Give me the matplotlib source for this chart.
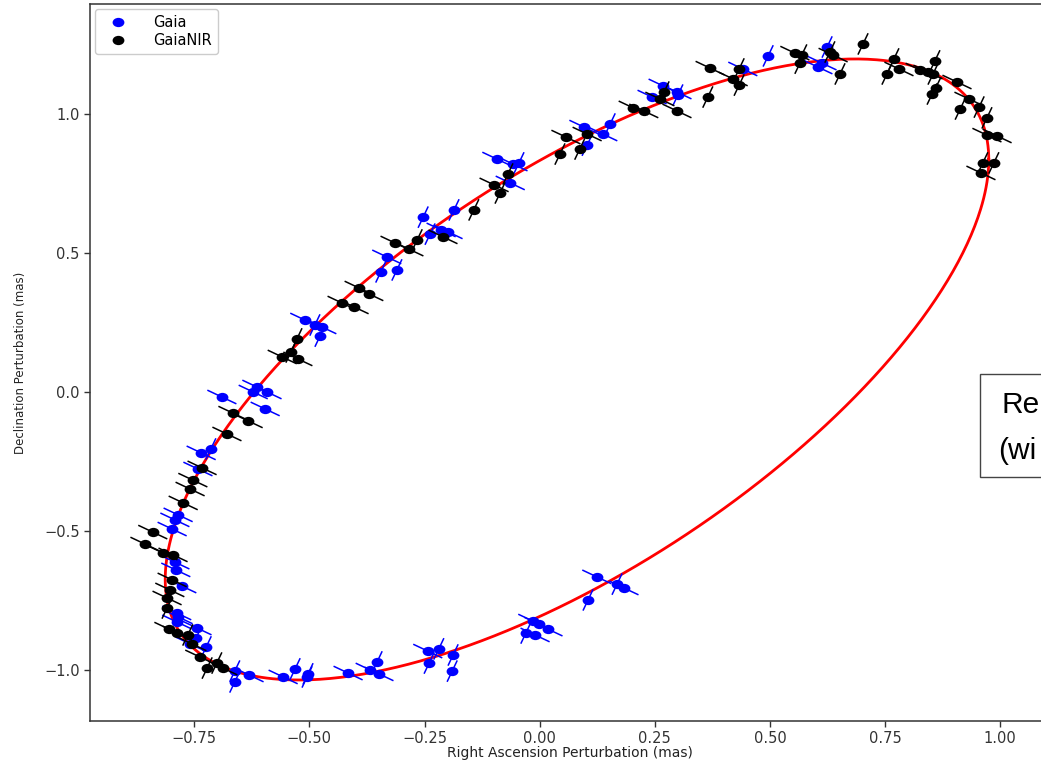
import numpy as np
import matplotlib
matplotlib.use('Agg')
import matplotlib.pyplot as plt
from matplotlib.path import Path
from matplotlib.transforms import Affine2D
from matplotlib.collections import LineCollection
from matplotlib.patches import Rectangle

# ---------------- data (mas) ----------------
gaia_ra = [0.624, 0.496, 0.604, 0.613, 0.441, 0.268, 0.244, 0.298, 0.300, 0.153,
           0.137, 0.096, 0.103, -0.093, -0.058, -0.045, -0.064, -0.186, -0.253, -0.238,
           -0.214, -0.199, -0.332, -0.345, -0.310, -0.510, -0.488, -0.473, -0.477, -0.614,
           -0.622, -0.592, -0.690, -0.596, -0.735, -0.714, -0.742, -0.785, -0.792, -0.798,
           -0.792, -0.790, -0.777, -0.788, -0.785, -0.788, -0.744, -0.746, -0.759, -0.724,
           -0.662, -0.631, -0.662, -0.557, -0.531, -0.505, -0.503, -0.416, -0.353, -0.349,
           -0.368, -0.243, -0.219, -0.240, -0.188, -0.190, -0.015, -0.002, 0.018, -0.030,
           -0.010, 0.105, 0.124, 0.168, 0.183]
gaia_dec = [1.241, 1.209, 1.169, 1.183, 1.162, 1.101, 1.061, 1.079, 1.068, 0.964,
            0.928, 0.953, 0.888, 0.838, 0.820, 0.824, 0.752, 0.655, 0.629, 0.568,
            0.583, 0.576, 0.486, 0.432, 0.439, 0.259, 0.241, 0.234, 0.201, 0.018,
            0.000, 0.000, -0.018, -0.061, -0.219, -0.205, -0.277, -0.442, -0.460, -0.493,
            -0.612, -0.640, -0.698, -0.795, -0.809, -0.827, -0.849, -0.885, -0.906, -0.917,
            -1.004, -1.018, -1.043, -1.025, -0.996, -1.025, -1.014, -1.011, -0.971, -1.014,
            -1.000, -0.932, -0.924, -0.975, -0.946, -1.004, -0.824, -0.835, -0.853, -0.867,
            -0.874, -0.748, -0.665, -0.691, -0.705]
gaia_scan_angle = [74, 74, -38, -38, -38, -38, -38, -38, 74, 74,
                   -38, -38, 74, -38, -38, 74, -38, 74, 74, 74,
                   -38, -38, -38, 74, 74, -38, 74, -38, 74, -38,
                   -38, -38, -38, -38, -38, 74, -38, -38, -38, -38,
                   -38, -38, -38, -38, -38, -38, -38, 74, -38, 74,
                   74, -38, 74, -38, 74, 74, 74, -38, 74, -38,
                   -38, -38, 74, 74, 74, 74, -38, -38, -38, 74,
                   -38, 74, -38, 74, -38]

nir_ra = [0.702, 0.569, 0.554, 0.565, 0.637, 0.630, 0.652, 0.370, 0.433, 0.420,
          0.433, 0.365, 0.203, 0.226, 0.261, 0.270, 0.298, 0.769, 0.754, 0.780,
          0.858, 0.826, 0.843, 0.854, 0.860, 0.852, 0.906, 0.932, 0.913, 0.954,
          0.971, 0.971, 0.993, 0.962, 0.986, 0.958, 0.103, 0.087, 0.057, 0.044,
          -0.069, -0.099, -0.086, -0.143, -0.210, -0.266, -0.314, -0.284, -0.392, -0.371,
          -0.429, -0.403, -0.527, -0.540, -0.559, -0.525, -0.666, -0.633, -0.679, -0.733,
          -0.753, -0.759, -0.774, -0.840, -0.857, -0.818, -0.796, -0.798, -0.803, -0.809,
          -0.809, -0.805, -0.787, -0.764, -0.755, -0.738, -0.722, -0.701, -0.688]
nir_dec = [1.252, 1.212, 1.219, 1.183, 1.212, 1.223, 1.144, 1.165, 1.162, 1.126,
           1.104, 1.061, 1.022, 1.011, 1.054, 1.079, 1.011, 1.198, 1.144, 1.162,
           1.191, 1.158, 1.151, 1.144, 1.094, 1.072, 1.115, 1.054, 1.018, 1.025,
           0.986, 0.924, 0.921, 0.824, 0.824, 0.788, 0.928, 0.874, 0.917, 0.856,
           0.784, 0.745, 0.716, 0.655, 0.558, 0.547, 0.536, 0.514, 0.374, 0.353,
           0.320, 0.306, 0.191, 0.144, 0.126, 0.119, -0.076, -0.104, -0.151, -0.273,
           -0.317, -0.349, -0.399, -0.504, -0.547, -0.579, -0.586, -0.676, -0.712, -0.741,
           -0.777, -0.853, -0.867, -0.874, -0.906, -0.953, -0.993, -0.975, -0.993]
nir_scan_angle = [74, 74, -38, 74, -38, 74, 74, -38, 74, -38,
                  74, 74, -38, -38, -38, 74, -38, 74, 74, -38,
                  74, -38, -38, 74, 74, 74, -38, -38, 74, 74,
                  74, -38, -38, 74, 74, -38, -38, 74, -38, 74,
                  74, -38, 74, 74, -38, 74, -38, -38, -38, -38,
                  -38, -38, 74, 74, -38, -38, -38, -38, -38, -38,
                  -38, -38, -38, -38, -38, -38, -38, -38, -38, -38,
                  74, -38, -38, 74, -38, -38, 74, 74, -38]
scan_error = 0.04  # half length of the along-scan error bar (mas)

# fitted orbit (projected ellipse) parameters
orbit_center_ra = 0.081
orbit_center_dec = 0.081
orbit_amp_ra = 0.894
orbit_amp_dec = 1.117
orbit_phase_deg = 47.5

tick_ra = [-0.75, -0.50, -0.25, 0.00, 0.25, 0.50, 0.75, 1.00]
tick_dec = [-1.0, -0.5, 0.0, 0.5, 1.0]

# ---------------- figure ----------------
W, H = 1041, 763
fig = plt.figure(figsize=(W / 100, H / 100), dpi=100)
ax = fig.add_axes([90 / W, 42 / H, (1092 - 90) / W, (759 - 42) / H])
ax.set_xlim(-0.9763, 1.1991)
ax.set_ylim(-1.1835, 1.3957)

# elliptical marker (the reference is horizontally stretched)
ell = Path.unit_circle().transformed(Affine2D().scale(1.27, 1.0))

t = np.linspace(0, 2 * np.pi, 600)
phi = np.deg2rad(orbit_phase_deg)
orb_x = orbit_center_ra + orbit_amp_ra * np.cos(t)
orb_y = orbit_center_dec + orbit_amp_dec * np.cos(t - phi)
ax.plot(orb_x, orb_y, color='red', lw=2.0, zorder=2)


def draw_series(xs, ys, angs, color, z):
    xs = np.asarray(xs); ys = np.asarray(ys)
    a = np.deg2rad(np.asarray(angs))
    dx = scan_error * np.cos(a)
    dy = scan_error * np.sin(a)
    segs = np.stack([np.column_stack([xs - dx, ys - dy]),
                     np.column_stack([xs + dx, ys + dy])], axis=1)
    ax.add_collection(LineCollection(segs, colors=color, linewidths=1.1, zorder=z))
    ax.plot(xs, ys, linestyle='none', marker=ell, markersize=8.5,
            color=color, markeredgewidth=0, zorder=z + 0.1)


draw_series(gaia_ra, gaia_dec, gaia_scan_angle, 'blue', 3)
draw_series(nir_ra, nir_dec, nir_scan_angle, 'black', 4)

h1, = ax.plot([], [], linestyle='none', marker=ell, markersize=8.5, color='blue',
              markeredgewidth=0, label='Gaia')
h2, = ax.plot([], [], linestyle='none', marker=ell, markersize=8.5, color='black',
              markeredgewidth=0, label='GaiaNIR')
ax.legend(handles=[h1, h2], loc='upper left', fontsize=10.5, borderaxespad=0.35,
          handlelength=2.3, handletextpad=1.3, labelspacing=0.2, borderpad=0.4,
          framealpha=1, edgecolor='#cccccc')

ax.set_xticks(tick_ra)
ax.set_xticklabels(['%.2f' % v if v >= 0 else '\u2212%.2f' % -v for v in tick_ra])
ax.set_yticks(tick_dec)
ax.set_yticklabels(['%.1f' % v if v >= 0 else '\u2212%.1f' % -v for v in tick_dec])
ax.tick_params(labelsize=10.5, colors='#333333', length=4, width=1)
for s in ax.spines.values():
    s.set_color('#333333')
    s.set_linewidth(1.1)

ax.set_xlabel('Right Ascension Perturbation (mas)', fontsize=10, color='#222222')
ax.xaxis.set_label_coords((570 - 90) / 1002, -0.035)
ax.set_ylabel('Declination Perturbation (mas)', fontsize=8.5, color='#222222')
ax.yaxis.set_label_coords((27 - 90) / 1002, (721 - 363) / 717)

# partially visible annotation box at the right edge
fig.patches.append(Rectangle((980 / W, (763 - 477) / H), 0.2, (477 - 374) / H,
                             transform=fig.transFigure, facecolor='white',
                             edgecolor='#444444', linewidth=1.0, zorder=10))
fig.text(1002 / W, 1 - 405 / H, 'Re', fontsize=21.5, family='Liberation Sans',
         va='center', ha='left', zorder=11)
fig.text(998 / W, 1 - 451 / H, '(wi', fontsize=21.5, family='Liberation Sans',
         va='center', ha='left', zorder=11)

fig.savefig('out.png', dpi=100)
